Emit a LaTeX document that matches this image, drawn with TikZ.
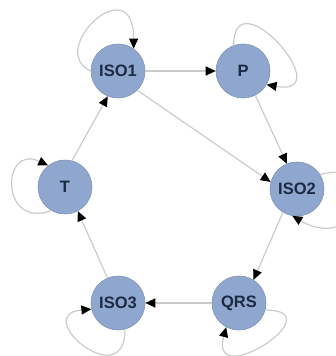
\documentclass[tikz,border=0pt]{standalone}
\usepackage{fontspec}
\setmainfont{Liberation Sans}
\usetikzlibrary{arrows.meta}
\definecolor{statefill}{HTML}{8FA7CF}
\definecolor{stateline}{HTML}{7E93B8}
\definecolor{statetext}{HTML}{1C2A44}
\definecolor{edgegray}{HTML}{CBCBCB}
\tikzset{
  state/.style={circle, minimum size=54pt, inner sep=0pt, fill=statefill,
    draw=stateline, line width=0.6pt, text=statetext,
    font=\fontsize{16.5}{16.5}\selectfont\bfseries},
  trans/.style={draw=edgegray, line width=1.2pt,
    -{Triangle[length=10pt,width=9pt,fill=black,color=black]}},
}
\begin{document}
\begin{tikzpicture}[x=1pt, y=-1pt]
  \useasboundingbox (0,0) rectangle (336,356);
  \clip (0,0) rectangle (336,356);

  % states
  \node[state] (iso1) at (118,71) {ISO1};
  \node[state] (p)    at (243,71) {P};
  \node[state] (iso2) at (297,189) {ISO2};
  \node[state] (qrs)  at (239,303) {QRS};
  \node[state] (iso3) at (118,303) {ISO3};
  \node[state] (t)    at (65,187)  {T};

  % transitions between states
  \draw[trans] (iso1.east) -- (p.west);
  \draw[trans] (iso1.-45) -- (iso2.165);
  \draw[trans] (p.-63) -- (iso2.112);
  \draw[trans] (iso2.-121) -- (qrs.58);
  \draw[trans] (qrs.west) -- (iso3.east);
  \draw[trans] (iso3.113) -- (t.-62);
  \draw[trans] (t.75) -- (iso1.-112);

  % self loops
  \draw[trans] (iso1.180) .. controls +(155:50pt) and +(90:82pt) .. (iso1.55);
  \draw[trans] (p.110) .. controls +(90:70pt) and +(-10:75pt) .. (p.-30);
  \draw[trans] (iso2.32) .. controls +(15:70pt) and +(-30:80pt) .. (iso2.-100);
  \draw[trans] (t.-120) .. controls +(-160:55pt) and +(155:52pt) .. (t.128);
  \draw[trans] (iso3.-75) .. controls +(-90:66pt) and +(185:62pt) .. (iso3.-167);
  \draw[trans] (qrs.-15) .. controls +(0:70pt) and +(-105:68pt) .. (qrs.-118);
\end{tikzpicture}
\end{document}
